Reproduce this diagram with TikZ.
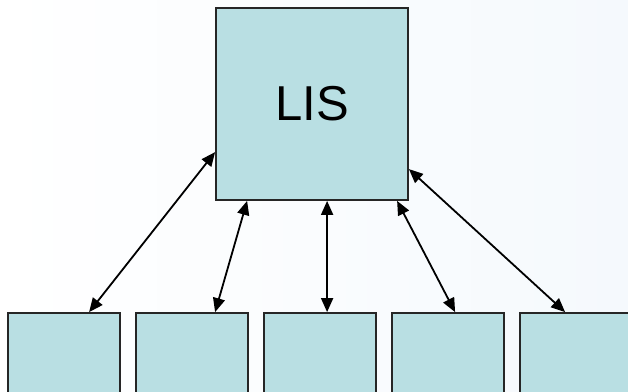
\documentclass[tikz,border=0pt]{standalone}
\usepackage{fontspec}
\setmainfont{Liberation Sans}
\usetikzlibrary{arrows.meta,calc}
\definecolor{boxfill}{HTML}{B9DFE3}
\definecolor{bgblue}{HTML}{F5F9FD}
\begin{document}
\begin{tikzpicture}[x=1pt,y=-1pt,
  box/.style={draw=black!85, line width=1.8pt, fill=boxfill, inner sep=0pt},
  link/.style={{Triangle[length=14pt,width=12pt]}-{Triangle[length=14pt,width=12pt]}, line width=1.8pt}]
\useasboundingbox (0,0) rectangle (628,391);
\shade[left color=white, right color=bgblue] (0,0) rectangle (628,391);
\clip (0,0) rectangle (628,391);
\node[box, minimum width=192pt, minimum height=192pt, font=\fontsize{49}{49}\selectfont] (lis) at (312,104) {LIS};
\node[box, minimum width=112pt, minimum height=112pt] (b1) at (64,369) {};
\node[box, minimum width=112pt, minimum height=112pt] (b2) at (192,369) {};
\node[box, minimum width=112pt, minimum height=112pt] (b3) at (320,369) {};
\node[box, minimum width=112pt, minimum height=112pt] (b4) at (448,369) {};
\node[box, minimum width=112pt, minimum height=112pt] (b5) at (576,369) {};
\draw[link] ($(b1.north west)+(82,0)$) -- ($(lis.north west)+(0,145)$);
\draw[link] ($(b2.north west)+(80,0)$) -- ($(lis.south west)+(32,0)$);
\draw[link] ($(b3.north west)+(64,0)$) -- ($(lis.south west)+(112,0)$);
\draw[link] ($(b4.north west)+(64,0)$) -- ($(lis.south west)+(182,0)$);
\draw[link] ($(b5.north west)+(46,0)$) -- ($(lis.north east)+(0,162)$);
\end{tikzpicture}
\end{document}
